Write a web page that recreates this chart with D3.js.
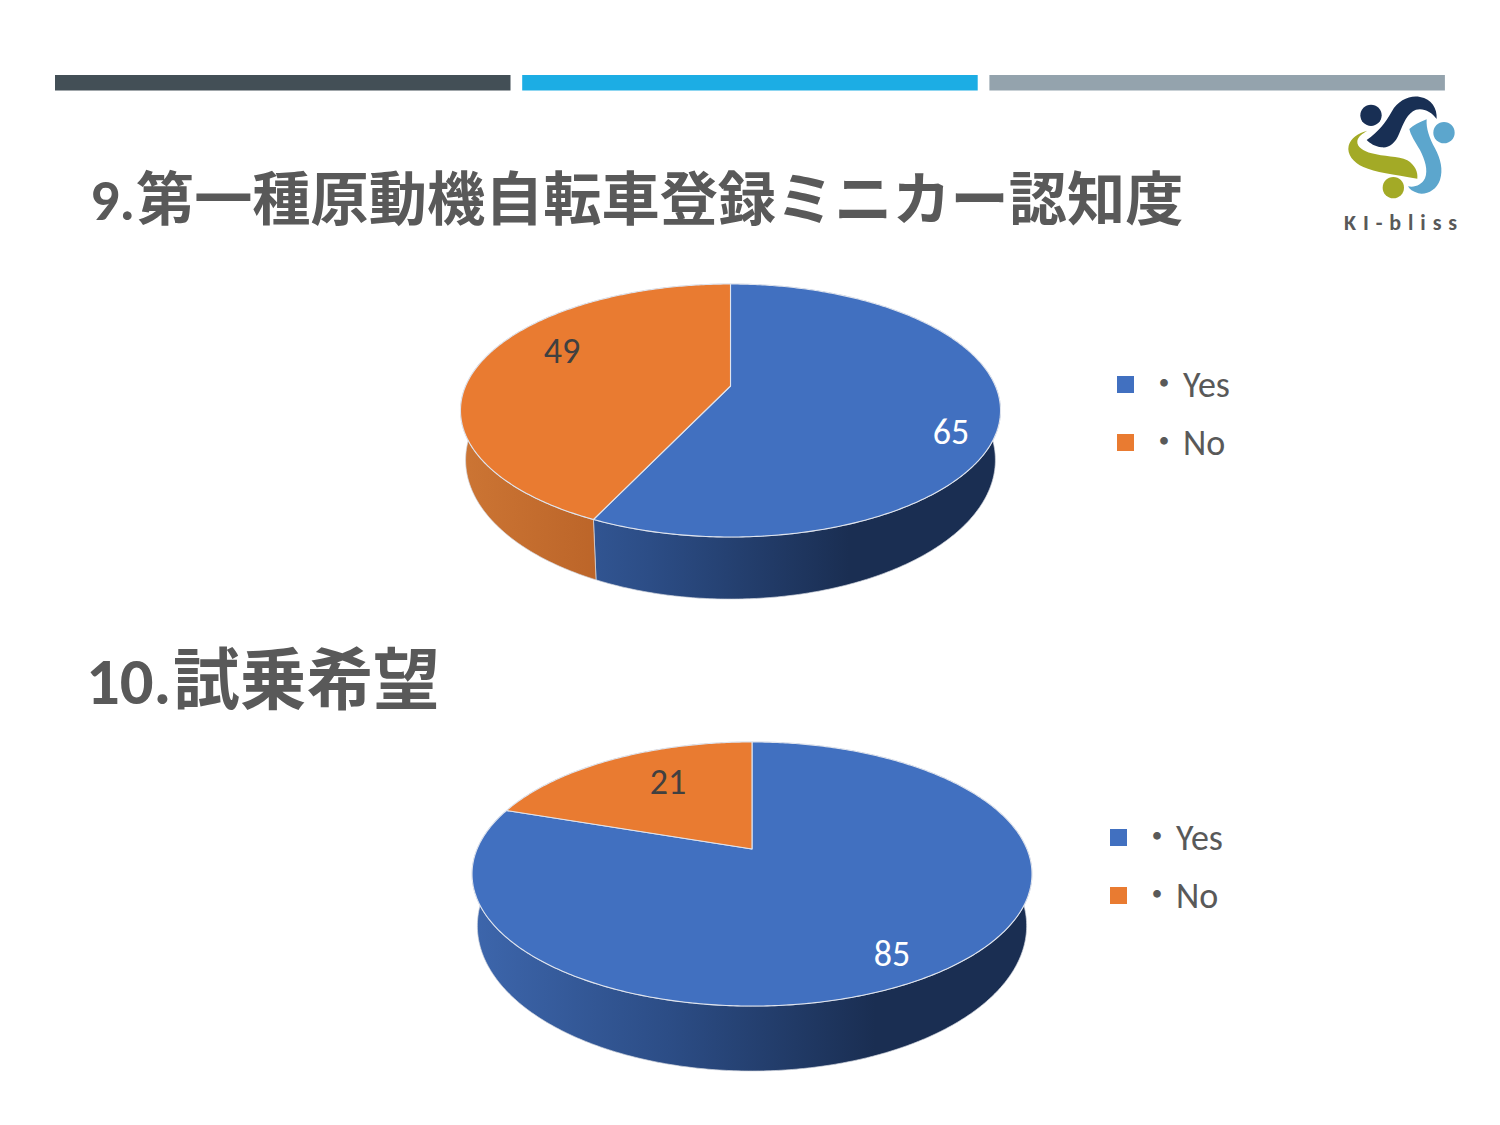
<!DOCTYPE html>
<html lang="ja"><head><meta charset="utf-8">
<script src="https://cdn.jsdelivr.net/npm/d3@7"></script>
<style>html,body{margin:0;background:#fff}svg{display:block}
text{font-family:Carlito,Lato,"Noto Sans CJK JP",sans-serif}</style></head>
<body><svg id="c" width="1500" height="1125" viewBox="0 0 1500 1125"></svg>
<script>
const categories = ["・Yes", "・No"];
const awarenessValues = [65, 49];
const trialValues = [85, 21];
const titleAwareness = "9.第一種原動機自転車登録ミニカー認知度";
const titleTrial = "10.試乗希望";
const logoText = "KI-bliss";
const topColors = ["#434f56", "#1cade4", "#94a3ad"];
const sliceColors = ["#4170c0", "#e97b31"];
const sideStops = [
  [["0%","#3d66ac"],["35%","#2c4d86"],["72%","#1a2e52"],["100%","#1a2e52"]],
  [["0%","#cc7534"],["30%","#b96227"],["100%","#a85519"]]
];

const svg = d3.select("#c");
const defs = svg.append("defs");

svg.selectAll("rect.top").data(topColors).join("rect").attr("class","top")
  .attr("x",(d,i)=>55+i*467.2).attr("y",75).attr("width",455.5).attr("height",15.5).attr("fill",d=>d);

function title(t,x,cjkX,y,size){
  const cut=t.indexOf(".")+1;
  const el=svg.append("text").attr("y",y).attr("font-size",size).attr("font-weight",700).attr("fill","#595959");
  el.append("tspan").attr("x",x).text(t.slice(0,cut));
  el.append("tspan").attr("x",cjkX).attr("font-family","'Noto Sans CJK JP',sans-serif").text(t.slice(cut));
}
title(titleAwareness,90,136,220,58.2);
title(titleTrial,86,173,704,66.7);

function pie3d(id,values,g){
  const root = svg.append("g");
  const pie = d3.pie().sort(null).value(d=>d)(values);
  // perspective disc -> screen
  const project = (th,sx,sy,dy)=>{
    const u=Math.sin(th), v=-Math.cos(th), w=1+g.k*v;
    return [g.x+sx*g.b*u/w, g.y+dy+sy*g.a*v/w];
  };
  const line = d3.line();
  const rim = (a,b,sx,sy,dy)=>{
    const n=Math.max(8,Math.ceil((b-a)*90));
    return d3.range(n+1).map(i=>project(a+(b-a)*i/n,sx,sy,dy));
  };
  pie.forEach((p,i)=>{
    const gid=`${id}-s${i}`;
    const lg=defs.append("linearGradient").attr("id",gid).attr("gradientUnits","userSpaceOnUse")
      .attr("x1",g.gx[0]).attr("x2",g.gx[1]).attr("y1",0).attr("y2",0);
    sideStops[i].forEach(s=>lg.append("stop").attr("offset",s[0]).attr("stop-color",s[1]));
    const top=rim(p.startAngle,p.endAngle,1,1,0), bot=rim(p.startAngle,p.endAngle,g.sx,g.sy,g.d).reverse();
    root.append("path").attr("d",line(top.concat(bot))+"Z").attr("fill",`url(#${gid})`)
      .attr("stroke","#d2d7e0").attr("stroke-width",0.7);
  });
  pie.forEach((p,i)=>{
    const pts=[[g.x,g.y]].concat(rim(p.startAngle,p.endAngle,1,1,0));
    root.append("path").attr("d",line(pts)+"Z").attr("fill",sliceColors[i])
      .attr("stroke","#dfe4ee").attr("stroke-width",1.1).attr("stroke-linejoin","round");
  });
  values.forEach((v,i)=>{
    root.append("text").attr("x",g.labels[i][0]).attr("y",g.labels[i][1]).attr("text-anchor","middle")
      .attr("font-size",36).attr("fill",i===0?"#ffffff":"#404040").text(v);
  });
  const leg=root.selectAll("g.leg").data(categories).join("g").attr("class","leg")
    .attr("transform",(d,i)=>`translate(${g.lx},${g.ly+i*58})`);
  leg.append("rect").attr("width",17).attr("height",17).attr("fill",(d,i)=>sliceColors[i]);
  const t=leg.append("text").attr("y",20.5).attr("font-size",36).attr("fill","#595959");
  t.append("tspan").attr("x",29).text(d=>d.slice(0,1));
  t.append("tspan").attr("x",66).text(d=>d.slice(1));
}

pie3d("a",awarenessValues,{x:730.5,y:386,k:-0.1937,a:121.75,b:264.9,sx:0.981,sy:1.10,d:47,
  gx:[461,1000],labels:[[951,444],[562,362.5]],lx:1117,ly:376});
pie3d("b",trialValues,{x:752,y:849,k:-0.1894,a:127.3,b:274.9,sx:0.981,sy:1.10,d:49.3,
  gx:[472,1032],labels:[[892,966],[668,793.5]],lx:1110,ly:829});

// logo
const logo=svg.append("g").attr("transform","translate(1320,85) scale(0.3333)");
const shapes=[
 ["#182f54","M140 165C175 140 195 115 215 80C235 45 270 30 300 36C335 42 352 70 350 102C335 80 310 68 288 74C262 84 250 115 238 145C225 178 205 190 185 187C165 185 150 175 140 165Z"],
 ["#5ca6cd","M268 132C280 120 298 112 320 103C318 130 328 160 345 190C362 222 370 255 360 285C350 315 320 330 295 325C278 320 268 312 264 304C285 308 305 300 315 280C325 255 315 225 300 195C285 170 272 150 268 132Z"],
 ["#a3aa26","M142 137C115 143 92 160 86 182C80 208 100 232 130 246C165 262 220 268 292 281C295 262 285 240 262 226C235 213 190 215 155 205C130 198 110 186 112 168C114 155 128 145 142 137Z"]
];
logo.selectAll("path").data(shapes).join("path").attr("d",d=>d[1]).attr("fill",d=>d[0]);
logo.selectAll("circle").data([[153,91,"#182f54"],[372,143,"#5ca6cd"],[220,308,"#a3aa26"]]).join("circle")
  .attr("cx",d=>d[0]).attr("cy",d=>d[1]).attr("r",32).attr("fill",d=>d[2]);
svg.append("text").attr("x",1344).attr("y",230).attr("font-size",22).attr("font-weight",700)
  .attr("letter-spacing",6.9).attr("fill","#595959").text(logoText);
</script></body></html>
